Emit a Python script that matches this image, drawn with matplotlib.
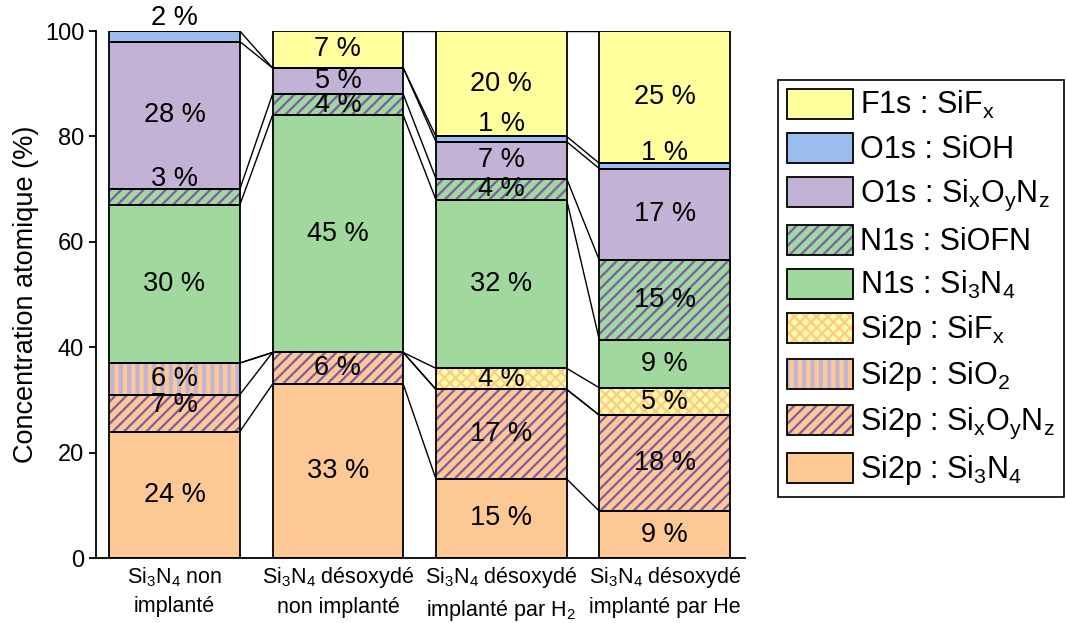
import numpy as np
import matplotlib
matplotlib.use("Agg")
import matplotlib.pyplot as plt
from matplotlib.patches import Rectangle

plt.rcParams['font.family'] = ['Liberation Sans', 'DejaVu Sans']
plt.rcParams['mathtext.fontset'] = 'custom'
plt.rcParams['mathtext.rm'] = 'Liberation Sans'
plt.rcParams['mathtext.it'] = 'Liberation Sans:italic'

# data (%), from bottom to top of each stacked bar
categories = [r'Si$_3$N$_4$ non' '\n' 'implanté',
              r'Si$_3$N$_4$ désoxydé' '\n' 'non implanté',
              r'Si$_3$N$_4$ désoxydé' '\n' r'implanté par H$_2$',
              r'Si$_3$N$_4$ désoxydé' '\n' 'implanté par He']
si2p_si3n4 = [24, 33, 15, 8.9]
si2p_sixoynz = [7, 6, 17, 18.2]
si2p_sio2 = [6, 0, 0, 0]
si2p_sifx = [0, 0, 4, 5.2]
n1s_si3n4 = [30, 45, 32, 9.1]
n1s_siofn = [3, 4, 4, 15.1]
o1s_sixoynz = [28, 5, 7, 17.4]
o1s_sioh = [2, 0, 1, 1.0]
f1s_sifx = [np.nan, 7, 20, 25.1]

series_names = [r'Si2p : Si$_3$N$_4$',
                r'Si2p : Si$_\mathrm{x}$O$_\mathrm{y}$N$_\mathrm{z}$',
                r'Si2p : SiO$_2$',
                r'Si2p : SiF$_\mathrm{x}$',
                r'N1s : Si$_3$N$_4$',
                r'N1s : SiOFN',
                r'O1s : Si$_\mathrm{x}$O$_\mathrm{y}$N$_\mathrm{z}$',
                r'O1s : SiOH',
                r'F1s : SiF$_\mathrm{x}$']
series_values = [si2p_si3n4, si2p_sixoynz, si2p_sio2, si2p_sifx,
                 n1s_si3n4, n1s_siofn, o1s_sixoynz, o1s_sioh, f1s_sifx]

orange = '#FCC995'
lavender = '#C2B3D6'
green = '#A0D89E'
yellow = '#FFFF9E'
blue = '#9CBDF0'
dark_purple = '#7E5BAA'

# face colour, hatch, hatch colour
styles = [(orange, None, None),
          (orange, '///', dark_purple),
          (orange, '||', lavender),
          (yellow, 'xxx', orange),
          (green, None, None),
          (green, '///', dark_purple),
          (lavender, None, None),
          (blue, None, None),
          (yellow, None, None)]
hatch_lw = {'///': 1.6, '||': 3.0, 'xxx': 1.6}

# small labels shifted up a bit (bar index, series index) -> data units
label_nudge = {(0, 7): 3.5, (0, 5): 3.4, (0, 1): 1.5, (2, 7): 2.9, (3, 7): 2.4}


def hatch_width(patch, lw):
    if hasattr(patch, 'set_hatch_linewidth'):
        patch.set_hatch_linewidth(lw)
    # older versions read the hatch width from rcParams at draw time
    orig = patch.draw

    def draw(renderer):
        with plt.rc_context({'hatch.linewidth': lw}):
            orig(renderer)
    patch.draw = draw


fig = plt.figure(figsize=(10.67, 6.23), dpi=100)
ax = fig.add_axes([0.09, 0.1043, 0.608, 0.8459])

x = np.arange(len(categories))
w = 0.8
bottom = np.zeros(len(categories))
handles = []
tops = []
for k, (vals, name, st) in enumerate(zip(series_values, series_names, styles)):
    face, hatch, hcol = st
    raw = np.array(vals, dtype=float)
    v = np.nan_to_num(raw)
    under = ax.bar(x, v, w, bottom=bottom, color=face, edgecolor=hcol if hcol else face,
                   hatch=hatch, linewidth=0, zorder=2)
    if hatch:
        for p in under:
            hatch_width(p, hatch_lw[hatch])
    over = ax.bar(x, v, w, bottom=bottom, fill=False, edgecolor='black', linewidth=1.3, zorder=3)
    handles.append((under[0], over[0]))
    for i in range(len(x)):
        if v[i] > 0:
            y = bottom[i] + v[i] / 2 + label_nudge.get((i, k), 0)
            ax.text(x[i], y, f'{v[i]:.0f} %', ha='center', va='center', fontsize=19.5,
                    zorder=5, clip_on=False)
    bottom = bottom + v
    top = bottom.copy()
    top[np.isnan(raw)] = np.nan
    tops.append(top)

# connecting lines between adjacent bars
for top in tops:
    for i in range(len(x) - 1):
        if np.isfinite(top[i]) and np.isfinite(top[i + 1]):
            ax.plot([x[i] + w / 2, x[i + 1] - w / 2], [top[i], top[i + 1]],
                    color='black', linewidth=1, zorder=1)

ax.set_xlim(-0.48, 3.49)
ax.set_ylim(0, 100)
ax.set_yticks(range(0, 101, 20))
ax.set_xticks(x)
ax.set_xticklabels(categories, fontsize=15.5, linespacing=1.45)
ax.tick_params(axis='x', length=0, pad=5)
ax.tick_params(axis='y', direction='out', length=5, width=1.3, labelsize=17)
ax.set_ylabel('Concentration atomique (%)', fontsize=19.5)
for s in ['top', 'right']:
    ax.spines[s].set_visible(False)
for s in ['left', 'bottom']:
    ax.spines[s].set_linewidth(1.3)

leg = fig.legend(handles[::-1], series_names[::-1], loc='upper left',
                 bbox_to_anchor=(778 / 1067, 1 - 80 / 623), fontsize=22,
                 handlelength=2.15, handleheight=1.1, labelspacing=0.39,
                 handletextpad=0.22, borderpad=0.3, borderaxespad=0,
                 fancybox=False, framealpha=1)
leg.get_frame().set_edgecolor('black')
leg.get_frame().set_linewidth(1.2)
for p in leg.findobj(Rectangle):
    if p.get_hatch() in hatch_lw:
        hatch_width(p, hatch_lw[p.get_hatch()])

fig.savefig('out.png', dpi=100)
